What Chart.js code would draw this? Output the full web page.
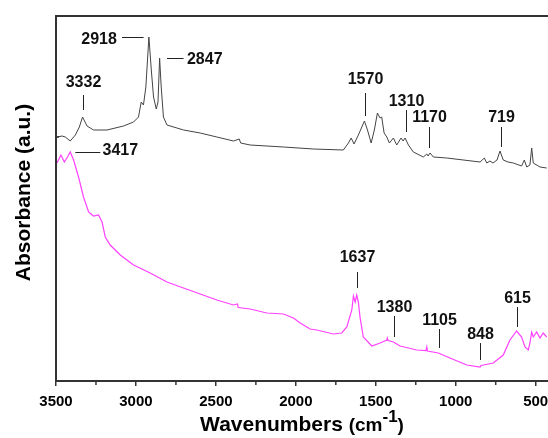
<!DOCTYPE html>
<html>
<head>
<meta charset="utf-8">
<script src="https://cdn.jsdelivr.net/npm/chart.js@4.4.1/dist/chart.umd.min.js"></script>
<style>
html,body{margin:0;padding:0;background:#fff;}
#wrap{width:548px;height:438px;}
</style>
</head>
<body>
<div id="wrap"><canvas id="c" width="548" height="438"></canvas></div>
<script>
// ---- data (wavenumber cm-1, absorbance a.u.) ----
const wnTop = [3494,3462,3442,3411,3379,3354,3334,3306,3265,3181,3078,3015,2984,2967,2953,2938,2919,2904,2890,2873,2862,2852,2842,2828,2806,2702,2598,2494,2390,2354,2345,2286,2077,1890,1703,1671,1654,1636,1609,1571,1552,1529,1509,1490,1473,1463,1448,1431,1415,1390,1369,1342,1329,1317,1296,1265,1203,1181,1173,1161,1140,1056,848,821,806,786,767,742,723,703,673,640,588,571,556,536,525,515,473,431];
const absTop = [2.44,2.45,2.44,2.40,2.46,2.54,2.64,2.55,2.51,2.51,2.55,2.59,2.64,2.79,2.76,2.94,3.44,3.11,2.84,2.72,2.79,3.23,2.94,2.64,2.56,2.51,2.48,2.44,2.40,2.42,2.38,2.36,2.34,2.32,2.31,2.38,2.43,2.37,2.46,2.60,2.51,2.38,2.51,2.68,2.63,2.64,2.48,2.44,2.38,2.43,2.36,2.43,2.40,2.43,2.36,2.29,2.24,2.27,2.25,2.28,2.24,2.23,2.19,2.23,2.18,2.20,2.18,2.21,2.30,2.21,2.19,2.18,2.15,2.21,2.14,2.16,2.33,2.18,2.14,2.13];
const wnBottom = [3494,3469,3448,3428,3411,3390,3359,3328,3296,3265,3234,3212,3192,3161,3098,3015,2911,2806,2703,2598,2494,2390,2365,2361,2286,2181,2078,2015,1973,1911,1869,1765,1713,1681,1650,1640,1629,1619,1609,1598,1578,1525,1473,1431,1428,1423,1390,1348,1244,1186,1181,1177,1109,1036,931,848,842,765,703,661,619,588,567,546,536,525,515,494,473,453,431];
const absBottom = [2.18,2.26,2.19,2.24,2.29,2.21,2.04,1.84,1.69,1.65,1.66,1.59,1.44,1.36,1.26,1.16,1.08,0.99,0.93,0.87,0.81,0.76,0.77,0.735,0.72,0.68,0.67,0.63,0.58,0.52,0.51,0.47,0.48,0.54,0.71,0.85,0.79,0.86,0.79,0.63,0.44,0.35,0.38,0.41,0.43,0.405,0.39,0.35,0.31,0.305,0.34,0.30,0.28,0.23,0.16,0.14,0.155,0.18,0.26,0.41,0.50,0.44,0.34,0.31,0.38,0.49,0.44,0.49,0.43,0.48,0.44];
const xTickValues = [3500,3000,2500,2000,1500,1000,500];
const xMinorValues = [3250,2750,2250,1750,1250,750];
// peak labels
const peakLabels = ['3332','1570','1310','1170','719','1637','1380','1105','848','615'];
const peakWn     = [3332,1570,1310,1170,719,1620,1388,1107,848,619];
const sideLabels = ['2918','2847','3417'];

const toPts = (xs, ys) => xs.map((x, i) => ({x: x, y: ys[i]}));

// annotation layout (data coords): [textY, lineTop, lineBottom]
const peakLayout = [
  [2.98,2.86,2.71],[3.01,2.88,2.65],[2.79,2.71,2.49],[2.63,2.54,2.33],[2.63,2.54,2.34],
  [1.23,1.09,0.93],[0.73,0.65,0.44],[0.60,0.52,0.33],[0.46,0.38,0.21],[0.82,0.74,0.54]
];
// side layout: [lineX1, lineX2, lineY, textX, textY, align]
const sideLayout = [
  [3087,2952,3.44,3119,3.41,'right'],
  [2806,2702,3.23,2681,3.21,'left'],
  [3379,3223,2.29,3209,2.30,'left']
];

const FONT = '"Liberation Sans", Arial, sans-serif';

const decor = {
  id: 'decor',
  afterDraw(chart) {
    const {ctx, chartArea: a, scales: {x, y}} = chart;
    ctx.save();
    // frame: top and left
    ctx.strokeStyle = '#333';
    ctx.lineWidth = 2;
    ctx.beginPath();
    ctx.moveTo(a.left, a.bottom);
    ctx.lineTo(a.left, a.top);
    ctx.lineTo(a.right, a.top);
    ctx.stroke();
    // small y tick
    ctx.lineWidth = 1.5;
    ctx.beginPath();
    ctx.moveTo(a.left, y.getPixelForValue(2.44));
    ctx.lineTo(a.left + 3, y.getPixelForValue(2.44));
    ctx.stroke();
    // minor x ticks
    xMinorValues.forEach(v => {
      const px = x.getPixelForValue(v);
      ctx.beginPath();
      ctx.moveTo(px, a.bottom);
      ctx.lineTo(px, a.bottom + 4);
      ctx.stroke();
    });
    // peak annotations
    ctx.fillStyle = '#111';
    ctx.strokeStyle = '#222';
    ctx.lineWidth = 1;
    ctx.font = 'bold 16px ' + FONT;
    ctx.textBaseline = 'middle';
    peakLabels.forEach((t, i) => {
      const px = Math.round(x.getPixelForValue(peakWn[i])) + 0.5;
      const L = peakLayout[i];
      ctx.textAlign = 'center';
      ctx.fillText(t, px, y.getPixelForValue(L[0]));
      ctx.beginPath();
      ctx.moveTo(px, y.getPixelForValue(L[1]));
      ctx.lineTo(px, y.getPixelForValue(L[2]));
      ctx.stroke();
    });
    sideLabels.forEach((t, i) => {
      const L = sideLayout[i];
      const ly = Math.round(y.getPixelForValue(L[2])) + 0.5;
      ctx.beginPath();
      ctx.moveTo(x.getPixelForValue(L[0]), ly);
      ctx.lineTo(x.getPixelForValue(L[1]), ly);
      ctx.stroke();
      ctx.textAlign = L[5];
      ctx.fillText(t, x.getPixelForValue(L[3]), y.getPixelForValue(L[4]));
    });
    // y title
    ctx.fillStyle = '#000';
    ctx.save();
    ctx.translate(24, (a.top + a.bottom) / 2 - 6);
    ctx.rotate(-Math.PI / 2);
    ctx.textAlign = 'center';
    ctx.font = 'bold 21px ' + FONT;
    ctx.fillText('Absorbance (a.u.)', 0, 0);
    ctx.restore();
    // x title with superscript
    const parts = [
      ['Wavenumbers ', 'bold 21px ' + FONT, 0],
      ['(cm', 'bold 19px ' + FONT, 0],
      ['-1', 'bold 17px ' + FONT, -9],
      [')', 'bold 19px ' + FONT, 0]
    ];
    let total = 0;
    parts.forEach(p => { ctx.font = p[1]; total += ctx.measureText(p[0]).width; });
    let cx = (a.left + a.right) / 2 - total / 2;
    const base = 431;
    ctx.textAlign = 'left';
    ctx.textBaseline = 'alphabetic';
    parts.forEach(p => {
      ctx.font = p[1];
      ctx.fillText(p[0], cx, base + p[2]);
      cx += ctx.measureText(p[0]).width;
    });
    ctx.restore();
  }
};

new Chart(document.getElementById('c'), {
  type: 'line',
  data: {
    datasets: [
      {label: 'top', data: toPts(wnTop, absTop), borderColor: '#444444', borderWidth: 1, pointRadius: 0, tension: 0},
      {label: 'bottom', data: toPts(wnBottom, absBottom), borderColor: '#ff40ff', borderWidth: 1.2, pointRadius: 0, tension: 0}
    ]
  },
  options: {
    responsive: false,
    animation: false,
    layout: {padding: {left: 56, right: 0, top: 16, bottom: 0}},
    plugins: {legend: {display: false}, tooltip: {enabled: false}},
    scales: {
      x: {
        type: 'linear',
        reverse: true,
        min: 423,
        max: 3500,
        afterBuildTicks: s => { s.ticks = xTickValues.map(v => ({value: v})); },
        afterFit: s => { s.height = 57; s.paddingLeft = 0; s.paddingRight = 0; },
        grid: {display: true, drawOnChartArea: false, drawTicks: true, tickLength: 5, color: '#333', lineWidth: 1.5},
        border: {display: true, color: '#333', width: 2},
        ticks: {autoSkip: false, maxRotation: 0, padding: 7, color: '#000', font: {family: FONT, size: 15, weight: 'bold'}, callback: v => String(v)}
      },
      y: {display: false, min: 0, max: 3.65}
    }
  },
  plugins: [decor]
});
</script>
</body>
</html>
